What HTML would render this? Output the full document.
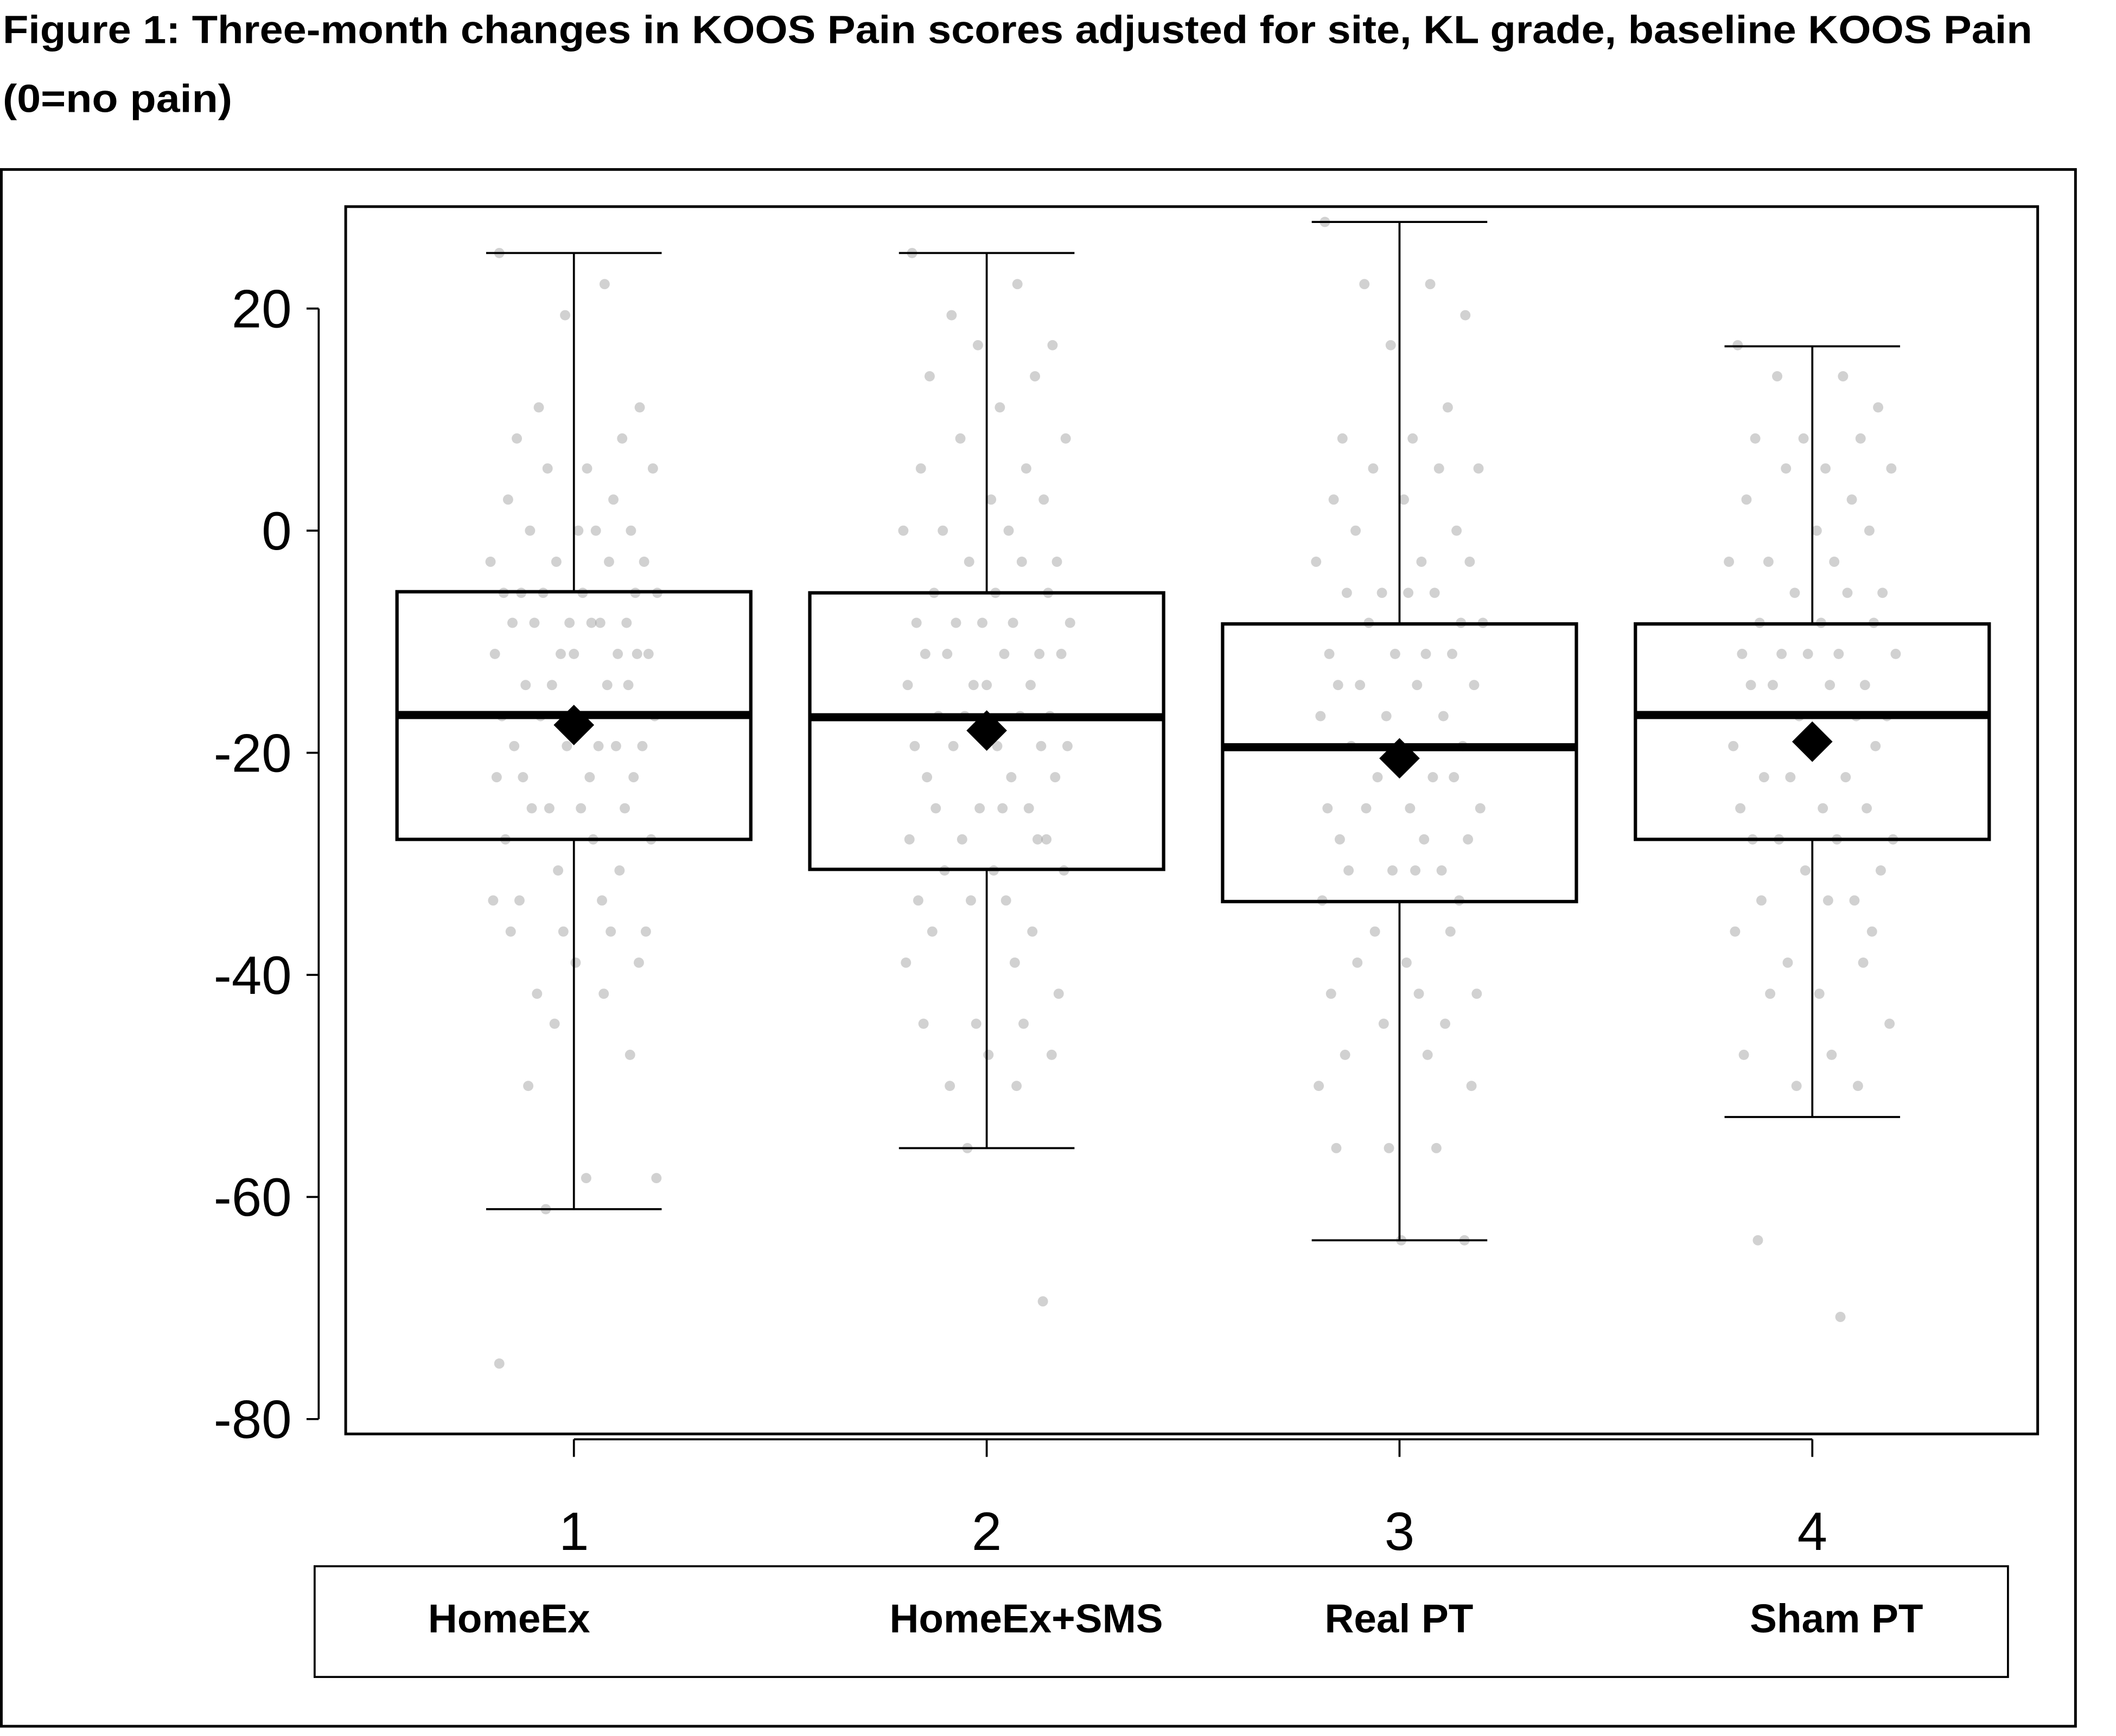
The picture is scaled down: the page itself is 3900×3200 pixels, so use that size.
<!DOCTYPE html>
<html><head><meta charset="utf-8"><style>
html,body{margin:0;padding:0;background:#fff;}
svg{display:block;}
text{font-family:"Liberation Sans",sans-serif;}
.t{font-weight:bold;font-size:29px;}
</style></head><body>
<svg id="chart" width="3900" height="3200" viewBox="0 0 1567 1285.7" xmlns="http://www.w3.org/2000/svg">
<text class="t" x="2" y="32" textLength="1503" lengthAdjust="spacingAndGlyphs">Figure 1: Three-month changes in KOOS Pain scores adjusted for site, KL grade, baseline KOOS Pain</text>
<text class="t" x="2" y="83" textLength="170" lengthAdjust="spacingAndGlyphs">(0=no pain)</text>
<rect x="1" y="125.5" width="1536" height="1153" fill="none" stroke="#000" stroke-width="2"/>
<rect x="256" y="153" width="1253" height="909" fill="none" stroke="#000" stroke-width="2"/>
<g id="dots"></g>
<g id="boxes"></g>
<g id="axes"></g>
<rect x="233" y="1160" width="1254" height="82" fill="none" stroke="#000" stroke-width="1.5"/>
<g id="legend"></g>
</svg>
<script>
const categories=["1","2","3","4"];
const groupNames=["HomeEx","HomeEx+SMS","Real PT","Sham PT"];
const q1=[-27.8,-30.5,-33.4,-27.8];
const q3=[-5.5,-5.6,-8.4,-8.4];
const medians=[-16.6,-16.8,-19.5,-16.6];
const means=[-17.5,-18.0,-20.5,-19.0];
const whiskerHigh=[25,25,27.8,16.6];
const whiskerLow=[-61.1,-55.6,-63.9,-52.8];
const yTicks=[20,0,-20,-40,-60,-80];
const legendX=[377,760,1036,1360];
const g1=[25,22.2,11.1,11.1,19.4,8.3,8.3,5.6,5.6,5.6,2.8,2.8,0,0,0,0,-2.8,-2.8,-2.8,-2.8,-5.6,-5.6,-5.6,-5.6,-5.6,-5.6,-8.3,-8.3,-8.3,-8.3,-8.3,-8.3,-11.1,-11.1,-11.1,-11.1,-11.1,-11.1,-13.9,-13.9,-13.9,-13.9,-16.7,-16.7,-16.7,-16.7,-19.4,-19.4,-19.4,-19.4,-19.4,-22.2,-22.2,-22.2,-22.2,-25,-25,-25,-25,-27.8,-27.8,-27.8,-30.6,-30.6,-33.3,-33.3,-33.3,-36.1,-36.1,-36.1,-36.1,-38.9,-38.9,-41.7,-41.7,-44.4,-47.2,-50,-58.3,-58.3,-61.1,-75];
const g2=[25,22.2,19.4,16.7,16.7,13.9,13.9,11.1,8.3,8.3,5.6,5.6,2.8,2.8,0,0,0,-2.8,-2.8,-2.8,-5.6,-5.6,-5.6,-8.3,-8.3,-8.3,-8.3,-8.3,-11.1,-11.1,-11.1,-11.1,-11.1,-13.9,-13.9,-13.9,-13.9,-16.7,-16.7,-16.7,-16.7,-19.4,-19.4,-19.4,-19.4,-19.4,-22.2,-22.2,-22.2,-25,-25,-25,-25,-27.8,-27.8,-27.8,-27.8,-30.6,-30.6,-30.6,-33.3,-33.3,-33.3,-36.1,-36.1,-38.9,-38.9,-41.7,-44.4,-44.4,-44.4,-47.2,-47.2,-50,-50,-55.6,-69.4];
const g3=[27.8,22.2,22.2,19.4,16.7,11.1,8.3,8.3,5.6,5.6,5.6,2.8,2.8,0,0,-2.8,-2.8,-2.8,-5.6,-5.6,-5.6,-5.6,-8.3,-8.3,-8.3,-11.1,-11.1,-11.1,-11.1,-13.9,-13.9,-13.9,-13.9,-16.7,-16.7,-16.7,-19.4,-19.4,-19.4,-22.2,-22.2,-22.2,-25,-25,-25,-25,-27.8,-27.8,-27.8,-30.6,-30.6,-30.6,-30.6,-33.3,-33.3,-36.1,-36.1,-38.9,-38.9,-41.7,-41.7,-41.7,-44.4,-44.4,-47.2,-47.2,-50,-50,-55.6,-55.6,-55.6,-63.9,-63.9];
const g4=[16.7,13.9,13.9,11.1,8.3,8.3,8.3,5.6,5.6,5.6,2.8,2.8,0,0,-2.8,-2.8,-2.8,-5.6,-5.6,-5.6,-8.3,-8.3,-8.3,-11.1,-11.1,-11.1,-11.1,-11.1,-13.9,-13.9,-13.9,-13.9,-16.7,-16.7,-16.7,-19.4,-19.4,-19.4,-22.2,-22.2,-22.2,-25,-25,-25,-27.8,-27.8,-27.8,-27.8,-30.6,-30.6,-33.3,-33.3,-33.3,-36.1,-36.1,-38.9,-38.9,-41.7,-41.7,-44.4,-47.2,-47.2,-50,-50,-63.9,-70.8];
const groups=[g1,g2,g3,g4];
const jitter=[-0.85,0.35,-0.4,0.75,-0.1,0.55,-0.65,0.15,0.9,-0.3,0.45,-0.75,0.05,0.65,-0.5,0.25,-0.95,0.8,-0.2,0.4,-0.6,0.1,0.7,-0.35,0.95,-0.8,0.3,-0.05,0.6,-0.45,0.2,-0.7,0.85,-0.15,0.5,-0.9,0.0,0.72,-0.55,0.38,-0.25,0.62,-0.82,0.12,0.92,-0.38,0.28,-0.68,0.78,-0.08,0.48,-0.58,0.18,-0.88,0.68,-0.28,0.58,-0.48,0.08,0.88,-0.78,0.22,-0.18,0.52,-0.62,0.32,-0.92,0.82,-0.12,0.42,-0.72,0.02,0.74,-0.42,0.34,-0.22,0.64,-0.52,0.14,0.94,-0.32];

const NS="http://www.w3.org/2000/svg";
function yS(v){return 393-v*8.225;}
function xS(i){return 425+i*305.7;}
function mk(parent,tag,attrs){const e=document.createElementNS(NS,tag);for(const k in attrs)e.setAttribute(k,attrs[k]);parent.appendChild(e);return e;}
const dots=document.getElementById('dots'),boxes=document.getElementById('boxes'),axes=document.getElementById('axes'),legend=document.getElementById('legend');
groups.forEach((vals,gi)=>{
  vals.forEach((v,i)=>{
    const c=mk(dots,'circle',{cx:xS(gi)+jitter[i%jitter.length]*65,cy:yS(v),r:3.8,fill:'#999','fill-opacity':0.45});
    
    
  });
});
categories.forEach((c,i)=>{
  const x=xS(i);
  const w1=mk(boxes,'line',{x1:x,x2:x,y1:yS(whiskerHigh[i]),y2:yS(q3[i]),stroke:'#000','stroke-width':1.5});
  
  
  const w2=mk(boxes,'line',{x1:x,x2:x,y1:yS(q1[i]),y2:yS(whiskerLow[i]),stroke:'#000','stroke-width':1.5});
  
  
  const c1=mk(boxes,'line',{x1:x-65,x2:x+65,y1:yS(whiskerHigh[i]),y2:yS(whiskerHigh[i]),stroke:'#000','stroke-width':1.5});
  
  
  const c2=mk(boxes,'line',{x1:x-65,x2:x+65,y1:yS(whiskerLow[i]),y2:yS(whiskerLow[i]),stroke:'#000','stroke-width':1.5});
  
  
  const b=mk(boxes,'rect',{x:x-131,y:yS(q3[i]),width:262,height:yS(q1[i])-yS(q3[i]),fill:'none',stroke:'#000','stroke-width':2.5});
  
  
  const m=mk(boxes,'line',{x1:x-131,x2:x+131,y1:yS(medians[i]),y2:yS(medians[i]),stroke:'#000','stroke-width':6});
  
  
  const my=yS(means[i]);
  const d=mk(boxes,'polygon',{points:`${x},${my-15} ${x+15},${my} ${x},${my+15} ${x-15},${my}`,fill:'#000'});
  
  
  const t=mk(axes,'line',{x1:x,x2:x,y1:1066,y2:1079,stroke:'#000','stroke-width':1.5});
  
  
  const tl=mk(axes,'text',{x:x,y:1148,'font-size':40,'text-anchor':'middle'});
  tl.textContent=c;
  
  
  const lg=mk(legend,'text',{x:legendX[i],y:1209,'font-size':30,'font-weight':'bold','text-anchor':'middle'});
  lg.textContent=groupNames[i];
  
  
});
const xa=mk(axes,'line',{x1:xS(0),x2:xS(3),y1:1066,y2:1066,stroke:'#000','stroke-width':1.5});


const ya=mk(axes,'line',{x1:236,x2:236,y1:yS(yTicks[0]),y2:yS(yTicks[yTicks.length-1]),stroke:'#000','stroke-width':1.5});


yTicks.forEach(v=>{
  const t=mk(axes,'line',{x1:227,x2:236,y1:yS(v),y2:yS(v),stroke:'#000','stroke-width':1.5});
  
  
  const l=mk(axes,'text',{x:216,y:yS(v)+14,'font-size':40,'text-anchor':'end'});
  l.textContent=String(v);
  
  
});
</script>
</body></html>
